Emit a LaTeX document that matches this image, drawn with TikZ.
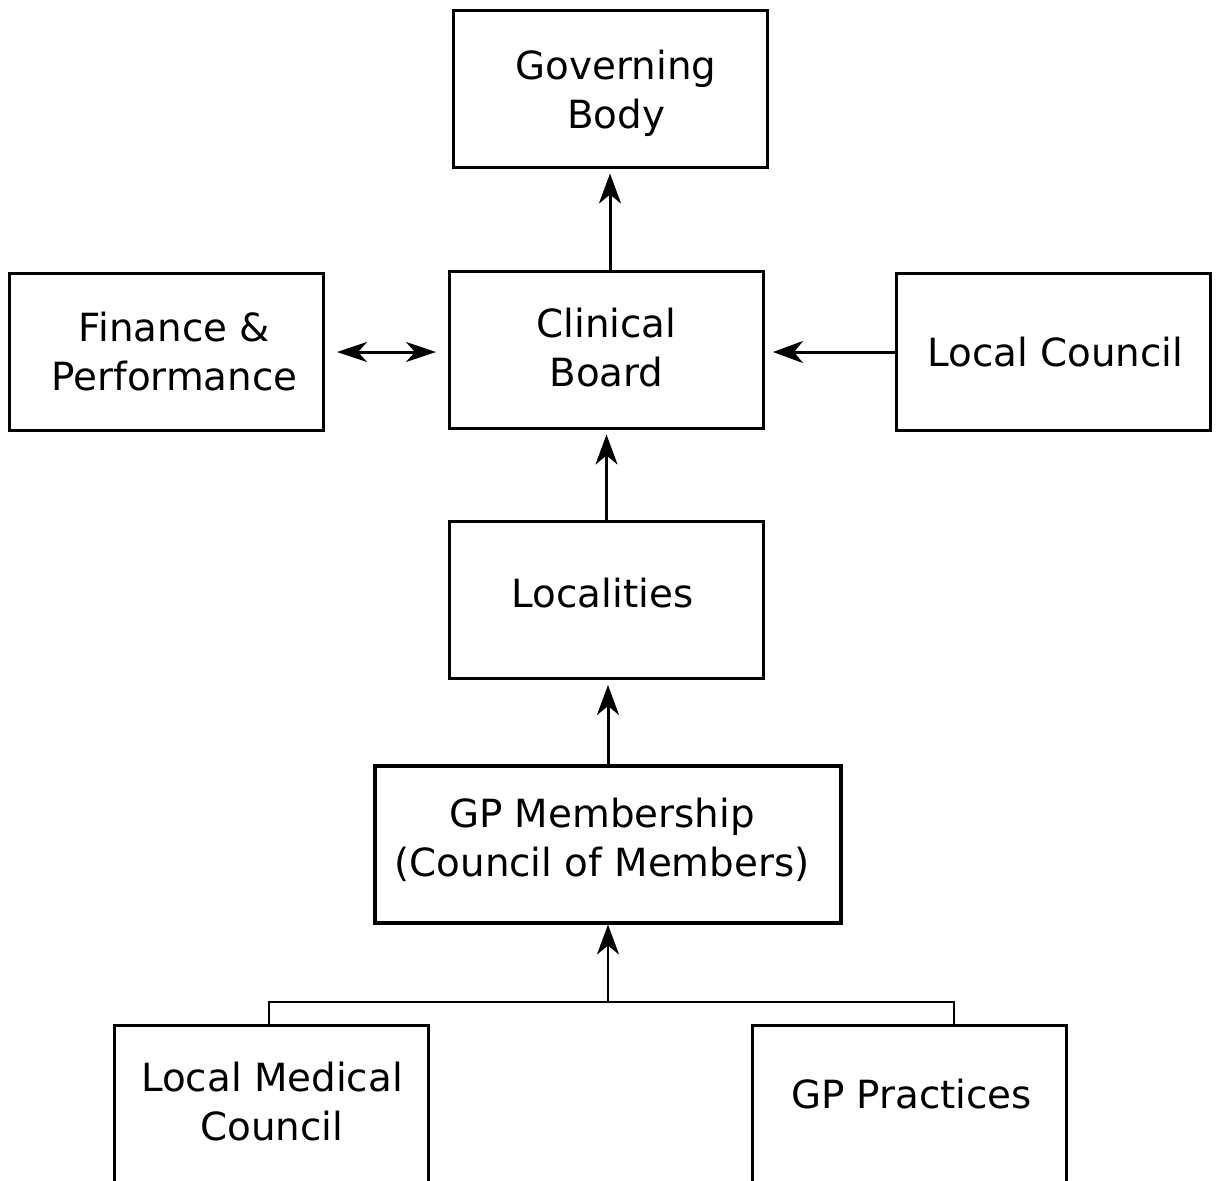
\documentclass[tikz,border=0pt]{standalone}
\usepackage{fontspec}
\setmainfont{DejaVu Sans}
\usetikzlibrary{arrows.meta}
\begin{document}
\begin{tikzpicture}[x=0.5pt,y=-0.5pt,
  box/.style={draw,line width=1.5pt,minimum width=157pt,minimum height=78.5pt,inner sep=0pt},
  txt/.style={align=center,font=\fontsize{19.4}{24.5}\selectfont,inner sep=0pt},
  tipa/.style={-{Stealth[length=15pt,width=11pt,inset=4.5pt]}},
  conn/.style={line width=1.5pt,tipa},
  dconn/.style={line width=1.5pt,{Stealth[length=15pt,width=10pt,inset=4.5pt]}-{Stealth[length=15pt,width=10pt,inset=4.5pt]}},
  thinconn/.style={line width=1pt,tipa},
  bracket/.style={line width=1pt}]
\useasboundingbox (0,0) rectangle (1217,1180);
\clip (0,0) rectangle (1217,1180);
% boxes
\node[box] (gov) at (610,88.5) {};
\node[box] (fin) at (166.5,352) {};
\node[box] (cb) at (606.5,349.5) {};
\node[box] (lc) at (1053.5,352) {};
\node[box] (loc) at (606.5,600) {};
\node[box,line width=2pt,minimum width=233pt] (gpm) at (608,844) {};
\node[box] (lmc) at (271,1104) {};
\node[box] (gpp) at (909.5,1104) {};
% texts
\node[txt,shift={(6,5)}] (govt) at (gov) {Governing\\Body};
\node[txt,shift={(8,0)}] (fint) at (fin) {Finance \&\\Performance};
\node[txt,shift={(0,-1.5)}] (cbt) at (cb) {Clinical\\Board};
\node[txt,shift={(2,0)}] (lct) at (lc) {Local Council};
\node[txt,shift={(-4,-7)}] (loct) at (loc) {Localities};
\node[txt,shift={(-6,-4.5)}] (gpmt) at (gpm) {GP Membership\\(Council of Members)};
\node[txt,shift={(1,-2.5)}] (lmct) at (lmc) {Local Medical\\Council};
\node[txt,shift={(2,-10)}] (gppt) at (gpp) {GP Practices};
% connectors
\draw[conn] (gov.south |- cb.north) -- ([yshift=-2.5pt]gov.south);
\draw[dconn] ([xshift=6pt]fin.east) -- ([xshift=-6pt]fin.east -| cb.west);
\draw[conn] (lc.west) -- ([xshift=4pt]lc.west -| cb.east);
\draw[conn] (loc.north) -- ([yshift=-2.5pt]cb.south);
\draw[conn] (gpm.north) -- ([yshift=-2.5pt]gpm.north |- loc.south);
\coordinate (j) at (608,1002);
\coordinate (bl) at (269,1002);
\coordinate (br) at (954,1002);
\draw[bracket] (bl |- lmc.north) -- (bl) -- (br) -- (br |- gpp.north);
\draw[thinconn] (j) -- (gpm.south);
\end{tikzpicture}
\end{document}
